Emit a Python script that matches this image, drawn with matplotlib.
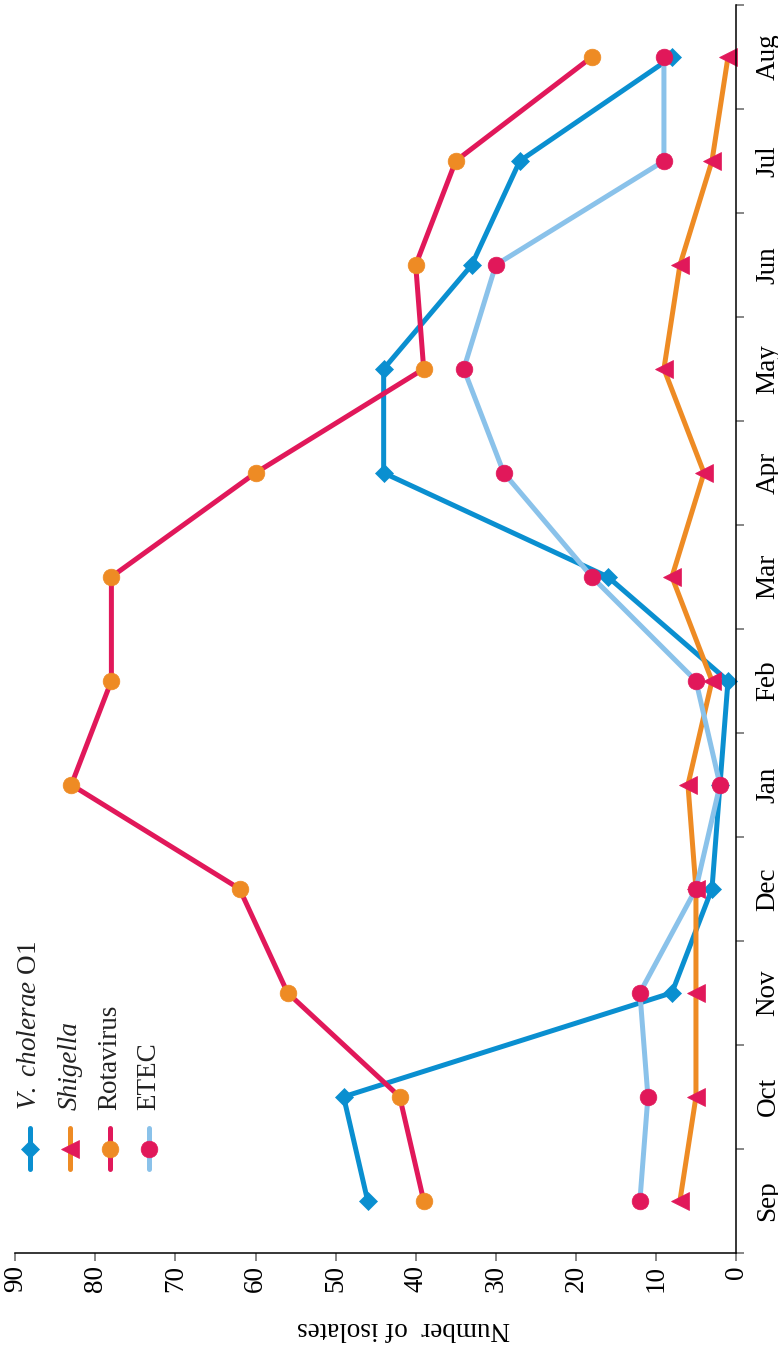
import numpy as np
import matplotlib
matplotlib.use('Agg')
import matplotlib.pyplot as plt

# monthly counts, Sep -> Aug
months = ['Sep', 'Oct', 'Nov', 'Dec', 'Jan', 'Feb', 'Mar', 'Apr', 'May', 'Jun', 'Jul', 'Aug']
vcholerae = [46, 49, 8, 3, 2, 1, 16, 44, 44, 33, 27, 8]
shigella = [7, 5, 5, 5, 6, 3, 8, 4, 9, 7, 3, 1]
rotavirus = [39, 42, 56, 62, 83, 78, 78, 60, 39, 40, 35, 18]
etec = [12, 11, 12, 5, 2, 5, 18, 29, 34, 30, 9, 9]
names = [r'$\mathit{V.\ cholerae}$ O1', 'Shigella', 'Rotavirus', 'ETEC']

blue = '#0A8FD0' ; orange = '#EE8B24' ; crimson = '#E1185A' ; lblue = '#8AC2EA'

plt.rcParams['font.family'] = ['Liberation Serif', 'DejaVu Serif']
plt.rcParams['mathtext.fontset'] = 'custom'
plt.rcParams['mathtext.rm'] = 'Liberation Serif'
plt.rcParams['mathtext.it'] = 'Liberation Serif:italic'
fs = 19.5

W, H = 778., 1346.
fig = plt.figure(figsize=(W/100., H/100.), dpi=100)
# axes box in pixels: left 15.3, right 736, top 5, bottom 1252.7
x0, x1, ytop, ybot = 15.3, 736., 5., 1252.7
ax = fig.add_axes([x0/W, (H-ybot)/H, (x1-x0)/W, (ybot-ytop)/H])

# chart is drawn turned a quarter turn: values run right to left, months bottom to top
idx = np.arange(len(months))
styles = [(vcholerae, blue, 'D', blue, 9.),
          (shigella, orange, '<', crimson, 13.),
          (rotavirus, crimson, 'o', orange, 12.),
          (etec, lblue, 'o', crimson, 12.)]
for vals, lc, mk, mc, ms in styles:
    ax.plot(vals, idx, color=lc, lw=3.6, marker=mk, ms=ms, mfc=mc, mec=mc,
            mew=0.5, solid_capstyle='round', solid_joinstyle='round', clip_on=False)

ax.set_xlim(90, 0)
ax.set_ylim(-0.5, 11.5)
ax.spines['top'].set_visible(False)
ax.spines['left'].set_visible(False)
ax.spines['bottom'].set_linewidth(1.1)
ax.spines['right'].set_linewidth(1.1)

ax.set_xticks(np.arange(0, 91, 10))
ax.tick_params(axis='x', direction='out', length=6, width=1.1, color='#666666',
               labelsize=fs, labelrotation=90, pad=3)
ax.yaxis.tick_right()
ax.set_yticks(np.arange(-0.5, 12, 1))
ax.set_yticklabels([])
ax.set_yticks(idx, minor=True)
ax.set_yticklabels(months, minor=True)
ax.tick_params(axis='y', which='major', direction='out', length=6, width=1.1, color='#666666')
ax.tick_params(axis='y', which='minor', length=0, labelsize=fs, pad=14)
for lbl in ax.get_yticklabels(minor=True):
    lbl.set_rotation(90) ; lbl.set_va('center')

ax.set_xlabel('Number  of isolates', fontsize=fs, rotation=180)
ax.xaxis.set_label_coords((403.-x0)/(x1-x0), (ybot-1329.)/(ybot-ytop))
ax.xaxis.label.set_va('center')

# hand-made legend, turned like the rest
leg_x = [30., 70., 110., 149.]
for (vals, lc, mk, mc, ms), name, lx in zip(styles, names, leg_x):
    fx = (lx-x0)/(x1-x0)
    fy0 = (ybot-1169.)/(ybot-ytop) ; fy1 = (ybot-1128.)/(ybot-ytop)
    ax.plot([fx, fx], [fy0, fy1], color=lc, lw=3.6, solid_capstyle='round',
            transform=ax.transAxes, clip_on=False)
    ax.plot([fx], [(fy0+fy1)/2.], marker=mk, ms=ms, mfc=mc, mec=mc, mew=0.5,
            transform=ax.transAxes, clip_on=False)
    style = 'italic' if name == 'Shigella' else 'normal'
    ax.text(fx, (ybot-1110.)/(ybot-ytop), name, rotation=90, ha='center', va='bottom',
            fontsize=fs, fontstyle=style, color='#222222', transform=ax.transAxes)

fig.savefig('out.png', dpi=100)
